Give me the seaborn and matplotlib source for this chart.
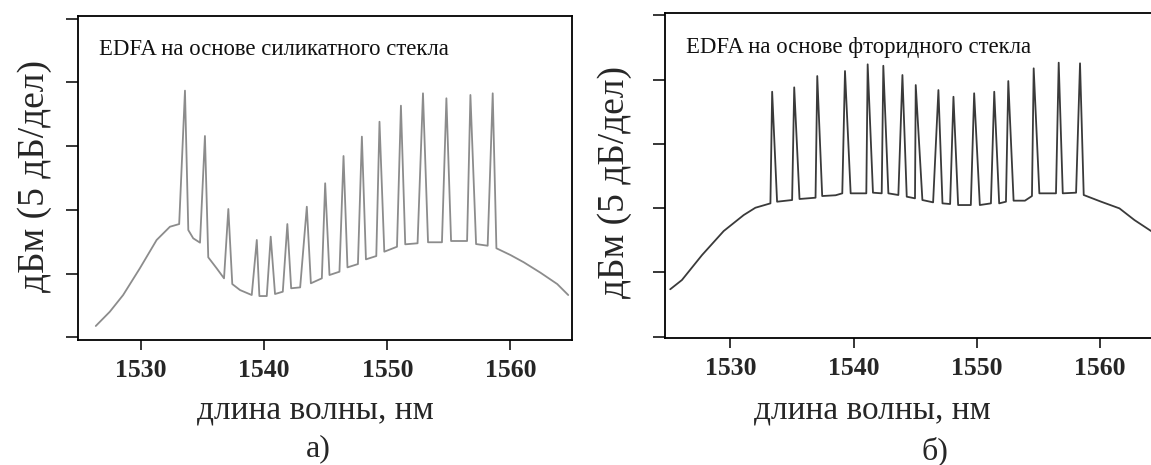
import numpy as np
import pandas as pd
import matplotlib
matplotlib.use("Agg")
import matplotlib.pyplot as plt
import seaborn as sns

# Spectrum of the silicate-glass EDFA (wavelength, nm / relative level, dB)
silicate_nm = [1526.34, 1527.48, 1528.56, 1529.92, 1531.28, 1532.36, 1533.11,
               1533.58, 1533.85, 1534.25, 1534.80,
               1535.20, 1535.47, 1536.15, 1536.75,
               1537.10, 1537.42, 1538.05, 1539.00,
               1539.41, 1539.62, 1540.22,
               1540.54, 1540.89, 1541.52,
               1541.89, 1542.20, 1542.93,
               1543.47, 1543.80, 1544.69,
               1544.96, 1545.31, 1546.12,
               1546.45, 1546.77, 1547.62,
               1547.94, 1548.27, 1549.11,
               1549.37, 1549.76, 1550.79,
               1551.11, 1551.46, 1552.46,
               1552.90, 1553.31, 1554.44,
               1554.80, 1555.18, 1556.48,
               1556.75, 1557.21, 1558.15,
               1558.56, 1558.86, 1560.00, 1561.08, 1562.44, 1563.80, 1564.69]
silicate_db = [0.89, 2.01, 3.32, 5.42, 7.64, 8.68, 8.89,
               19.36, 8.42, 7.77, 7.43,
               15.80, 6.28, 5.42, 4.63,
               10.07, 4.18, 3.71, 3.32,
               7.64, 3.24, 3.24,
               7.90, 3.40, 3.58,
               8.89, 3.85, 3.92,
               10.25, 4.24, 4.63,
               12.09, 4.89, 5.15,
               14.23, 5.49, 5.75,
               15.75, 6.12, 6.38,
               16.92, 6.72, 7.11,
               18.18, 7.30, 7.38,
               19.15, 7.46, 7.46,
               18.76, 7.56, 7.56,
               19.02, 7.32, 7.19,
               19.15, 6.99, 6.46, 5.89, 5.07, 4.18, 3.32]

# Spectrum of the fluoride-glass EDFA
fluoride_nm = [1525.12, 1526.07, 1527.70, 1529.46, 1531.08, 1532.03, 1533.25,
               1533.39, 1533.79, 1535.01,
               1535.18, 1535.61, 1536.91,
               1537.05, 1537.45, 1538.54, 1539.08,
               1539.30, 1539.76, 1541.03,
               1541.14, 1541.57, 1542.28,
               1542.41, 1542.82, 1543.63,
               1543.96, 1544.31, 1544.98,
               1545.04, 1545.58, 1546.45,
               1546.88, 1547.21, 1547.83,
               1548.10, 1548.48, 1549.51,
               1549.78, 1550.24, 1551.14,
               1551.41, 1551.81, 1552.36,
               1552.55, 1552.98, 1553.90, 1554.47,
               1554.61, 1555.07, 1556.42,
               1556.64, 1556.97, 1558.05,
               1558.37, 1558.67, 1560.08, 1561.57, 1562.79, 1564.23, 1565.40]
fluoride_db = [3.69, 4.41, 6.35, 8.22, 9.46, 10.03, 10.37,
               19.05, 10.50, 10.63,
               19.39, 10.71, 10.81,
               20.27, 10.94, 11.00, 11.15,
               20.66, 11.15, 11.15,
               21.18, 11.20, 11.15,
               21.07, 11.15, 11.02,
               20.35, 10.89, 10.76,
               19.57, 10.63, 10.45,
               19.18, 10.37, 10.32,
               18.66, 10.24, 10.24,
               18.93, 10.24, 10.37,
               19.05, 10.37, 10.50,
               19.88, 10.58, 10.58, 10.94,
               20.87, 11.15, 11.15,
               21.31, 11.15, 11.20,
               21.26, 11.02, 10.50, 9.98, 9.07, 8.16, 7.40]

titles = ["EDFA на основе силикатного стекла", "EDFA на основе фторидного стекла"]
panel_tags = ["а)", "б)"]
x_ticks = [1530, 1540, 1550, 1560]
y_ticks = [0, 5, 10, 15, 20, 25]
x_label = "длина волны, нм"
y_label = "дБм (5 дБ/дел)"

sns.set_theme(style="ticks")
plt.rcParams["font.family"] = ["Liberation Serif", "DejaVu Serif"]

fig = plt.figure(figsize=(11.51, 4.65), dpi=100)

ax1 = fig.add_axes([0.0678, 0.2688, 0.4292, 0.6974])
ax2 = fig.add_axes([0.5778, 0.2731, 0.4326, 0.6983])

df1 = pd.DataFrame({"nm": silicate_nm, "db": silicate_db})
df2 = pd.DataFrame({"nm": fluoride_nm, "db": fluoride_db})

sns.lineplot(data=df1, x="nm", y="db", ax=ax1, color="#8c8c8c",
             linewidth=1.3, estimator=None, sort=False)
sns.lineplot(data=df2, x="nm", y="db", ax=ax2, color="#3a3a3a",
             linewidth=1.3, estimator=None, sort=False)

limits = [((1524.9, 1565.0), (-0.21, 25.24)), ((1524.7, 1565.1), (-0.10, 25.15))]

for ax, title, (xl, yl) in zip([ax1, ax2], titles, limits):
    ax.set_xlim(*xl)
    ax.set_ylim(*yl)
    ax.set_xticks(x_ticks)
    ax.set_yticks(y_ticks)
    ax.set_yticklabels([])
    ax.set_xticklabels([str(t) for t in x_ticks], fontsize=18.5,
                       fontweight="bold")
    ax.tick_params(axis="y", direction="out", length=8.5, width=1.1,
                   color="black")
    ax.tick_params(axis="x", direction="out", length=7.5, width=1.1,
                   color="black", pad=6)
    for sp in ax.spines.values():
        sp.set_visible(True)
        sp.set_color("black")
        sp.set_linewidth(1.3)
    ax.set_xlabel("")
    ax.set_ylabel("")
    ax.text(0.043, 0.895, title, transform=ax.transAxes, fontsize=16.4,
            ha="left", va="center", color="#111111")

# Axis captions and panel tags
fig.text(0.2740, 1 - 410 / 465, x_label, ha="center", va="center", fontsize=24)
fig.text(0.7575, 1 - 410 / 465, x_label, ha="center", va="center", fontsize=24)
fig.text(35 / 1151, 1 - 176 / 465, y_label, rotation=90, ha="center",
         va="center", fontsize=27)
fig.text(615 / 1151, 1 - 182 / 465, y_label, rotation=90, ha="center",
         va="center", fontsize=27)
fig.text(318 / 1151, 1 - 449 / 465, panel_tags[0], ha="center", va="center",
         fontsize=23)
fig.text(935 / 1151, 1 - 451 / 465, panel_tags[1], ha="center", va="center",
         fontsize=23)

fig.savefig("out.png", dpi=100, facecolor="white")
